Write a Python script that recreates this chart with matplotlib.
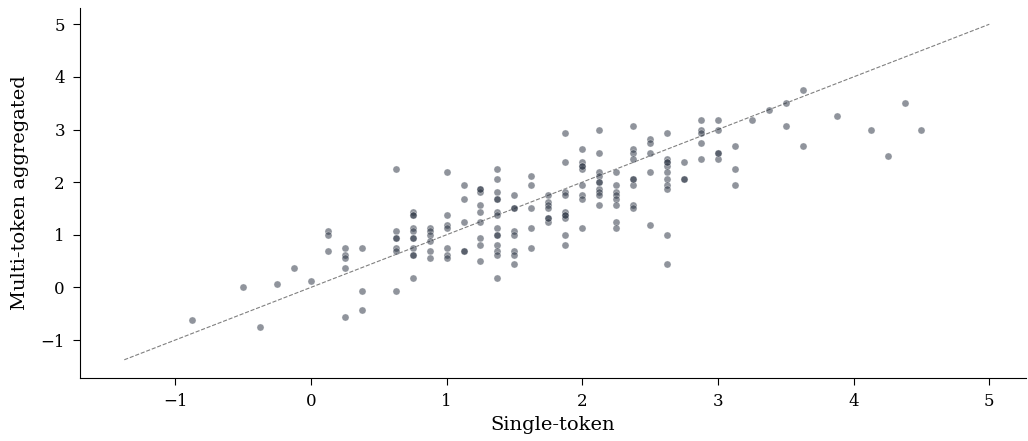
import matplotlib
matplotlib.use('Agg')
import matplotlib.pyplot as plt

plt.rcParams['font.family'] = ['DejaVu Serif']

# single-token score per item (x) and the aggregated multi-token score (y)
single_token = (
    [-0.875, -0.5, -0.375, -0.25, -0.125, 0.0]
    + [0.125] * 3 + [0.25] * 5 + [0.375] * 3 + [0.625] * 6 + [0.75] * 8
    + [0.875] * 6 + [1.0] * 7 + [1.125] * 4 + [1.25] * 8 + [1.375] * 12
    + [1.5] * 7 + [1.625] * 5 + [1.75] * 6 + [1.875] * 9 + [2.0] * 8
    + [2.125] * 9 + [2.25] * 8 + [2.375] * 8 + [2.5] * 5 + [2.625] * 10
    + [2.75] * 2 + [2.875] * 5 + [3.0] * 4 + [3.125] * 3 + [3.25, 3.375]
    + [3.5] * 2 + [3.625] * 2 + [3.875, 4.125, 4.25, 4.375, 4.5]
)
multi_token = [
    -0.625, 0.0, -0.75, 0.0625, 0.375, 0.125,
    1.0625, 1.0, 0.6875,
    0.75, 0.625, 0.5625, 0.375, -0.5625,
    0.75, -0.0625, -0.4375,
    2.25, 1.0625, 0.9375, 0.75, 0.6875, -0.0625,
    1.4375, 1.375, 1.125, 1.0625, 0.9375, 0.75, 0.625, 0.1875,
    1.125, 1.0625, 1.0, 0.875, 0.6875, 0.5625,
    2.1875, 1.375, 1.1875, 1.125, 0.75, 0.625, 0.5625,
    1.9375, 1.6875, 1.25, 0.6875,
    1.875, 1.8125, 1.5625, 1.4375, 1.25, 0.9375, 0.8125, 0.5,
    2.25, 2.0625, 1.8125, 1.6875, 1.4375, 1.375, 1.125, 1.0, 0.8125, 0.6875, 0.625, 0.1875,
    1.75, 1.5, 1.0625, 1.0, 0.6875, 0.625, 0.4375,
    2.125, 1.9375, 1.5, 1.125, 0.75,
    1.75, 1.625, 1.5625, 1.5, 1.3125, 1.25,
    2.9375, 2.375, 1.8125, 1.75, 1.4375, 1.375, 1.3125, 1.0, 0.8125,
    2.625, 2.375, 2.3125, 2.25, 1.9375, 1.75, 1.6875, 1.125,
    3.0, 2.5625, 2.1875, 2.125, 2.0, 1.875, 1.8125, 1.75, 1.5625,
    2.1875, 1.9375, 1.8125, 1.75, 1.6875, 1.5625, 1.25, 1.125,
    3.0625, 2.625, 2.5625, 2.4375, 2.0625, 1.9375, 1.5625, 1.5,
    2.8125, 2.75, 2.5625, 2.1875, 1.1875,
    2.9375, 2.4375, 2.375, 2.3125, 2.1875, 2.0625, 1.9375, 1.875, 1.0, 0.4375,
    2.375, 2.0625,
    3.1875, 3.0, 2.9375, 2.75, 2.4375,
    3.1875, 3.0, 2.5625, 2.4375,
    2.6875, 2.25, 1.9375,
    3.1875, 3.375,
    3.5, 3.0625,
    3.75, 2.6875,
    3.25, 3.0, 2.5, 3.5, 3.0,
]
# items that sit exactly on top of another one (the darker dots)
repeat_single = [0.625, 0.75, 0.75, 0.75, 1.125, 1.5, 2.375, 2.75, 3.0,
                 2.125, 1.375, 1.375, 1.25, 2.0, 2.625, 1.75, 1.875]
repeat_multi = [0.9375, 0.9375, 0.625, 1.375, 0.6875, 1.5, 2.0625, 2.0625, 2.5625,
                2.0, 1.6875, 1.0, 1.875, 2.3125, 2.375, 1.3125, 1.375]
diag = [-1.375, 5.0]

fig = plt.figure(figsize=(10.28, 4.41), dpi=100)
ax = fig.add_axes([0.078, 0.143, 0.92, 0.839])

ax.plot(diag, diag, ls='--', color='grey', lw=0.8, zorder=1)
ax.scatter(single_token + repeat_single, multi_token + repeat_multi, s=26,
           color='#2a3342', alpha=0.52, edgecolor='white', linewidth=0.4, zorder=2)

ax.set_xlim(-1.70, 5.27)
ax.set_ylim(-1.72, 5.31)
ax.set_xticks(range(-1, 6))
ax.set_yticks(range(-1, 6))
ax.tick_params(labelsize=12, length=5, pad=6)
ax.set_xlabel('Single-token', fontsize=14, labelpad=4)
ax.set_ylabel('Multi-token aggregated', fontsize=14, labelpad=8)
for side in ['top', 'right']:
    ax.spines[side].set_visible(False)

fig.savefig('out.png', dpi=100)
